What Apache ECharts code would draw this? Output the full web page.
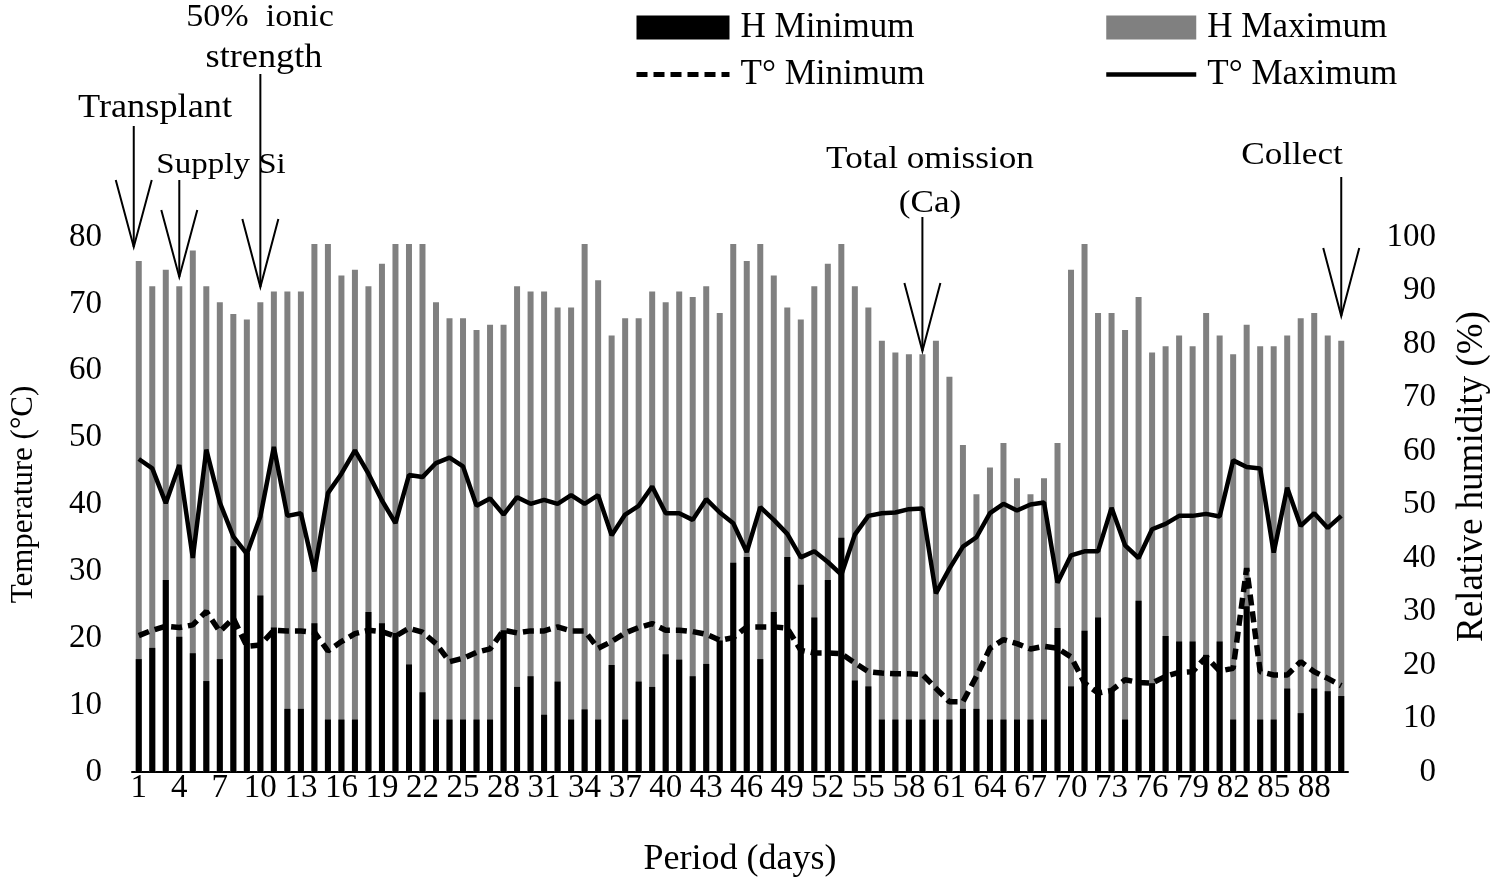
<!DOCTYPE html>
<html>
<head>
<meta charset="utf-8">
<script src="https://cdn.jsdelivr.net/npm/echarts@6/dist/echarts.min.js"></script>
<style>
html,body{margin:0;padding:0;background:#fff;}
#chart{width:1499px;height:883px;}
</style>
</head>
<body>
<div id="chart"></div>
<script>
const days = ['1','2','3','4','5','6','7','8','9','10','11','12','13','14','15','16','17','18','19','20',
'21','22','23','24','25','26','27','28','29','30','31','32','33','34','35','36','37','38','39','40',
'41','42','43','44','45','46','47','48','49','50','51','52','53','54','55','56','57','58','59','60',
'61','62','63','64','65','66','67','68','69','70','71','72','73','74','75','76','77','78','79','80',
'81','82','83','84','85','86','87','88','89','90'];

// Relative humidity maximum (%)
const hMax = [95.5,90.8,93.9,90.8,97.5,90.8,87.8,85.6,84.6,87.8,
89.8,89.8,89.8,98.7,98.7,92.8,93.9,90.8,95.0,98.7,
98.7,98.7,87.8,84.8,84.8,82.6,83.6,83.6,90.8,89.8,
89.8,86.8,86.8,98.7,91.9,81.6,84.8,84.8,89.8,87.8,
89.8,88.8,90.8,85.8,98.7,95.5,98.7,92.8,86.8,84.6,
90.8,95.0,98.7,90.8,86.8,80.6,78.4,78.1,78.1,80.6,
73.9,61.1,51.9,56.9,61.5,54.9,51.9,54.9,61.5,93.9,
98.7,85.8,85.8,82.6,88.8,78.4,79.6,81.6,79.6,85.8,
81.6,78.1,83.6,79.6,79.6,81.6,84.8,85.8,81.6,80.6];

// Relative humidity minimum (%)
const hMin = [21.1,23.2,35.9,25.3,22.2,17.0,21.1,42.2,41.0,33.0,
27.0,11.8,11.8,27.8,9.8,9.8,9.8,29.9,27.8,26.0,
20.1,14.9,9.8,9.8,9.8,9.8,9.8,26.5,15.9,17.9,
10.7,16.9,9.8,11.7,9.8,20.0,9.8,16.9,15.9,22.0,
21.0,17.9,20.2,24.6,39.1,40.2,21.1,29.9,40.2,35.0,
28.9,35.9,43.8,17.1,16.0,9.8,9.8,9.8,9.8,9.8,
9.8,11.8,11.8,9.8,9.8,9.8,9.8,9.8,26.9,16.0,
26.4,28.9,15.2,9.8,32.0,16.6,25.4,24.4,24.4,21.9,
24.4,9.8,31.0,9.8,9.8,15.6,11.0,15.6,15.1,14.2];

// Temperature maximum (°C)
const tMax = [46.8,45.4,40.2,45.9,32.0,48.2,40.3,35.2,32.6,38.2,
48.6,38.3,38.7,30.0,41.7,44.6,48.1,44.6,40.6,37.2,
44.4,44.1,46.2,47.0,45.7,39.8,40.9,38.5,41.1,40.1,
40.7,40.1,41.4,40.1,41.4,35.4,38.5,39.8,42.7,38.7,
38.7,37.7,40.8,38.8,37.2,32.9,39.6,37.7,35.6,32.1,
33.0,31.4,29.5,35.5,38.3,38.7,38.8,39.3,39.4,26.7,
30.4,33.7,35.1,38.7,40.1,39.1,40.0,40.3,28.3,32.4,
33.0,33.0,39.5,33.9,32.0,36.3,37.1,38.3,38.3,38.6,
38.2,46.6,45.6,45.4,32.8,42.5,36.8,38.7,36.5,38.3];

// Temperature minimum (°C)
const tMin = [20.4,21.2,21.8,21.6,22.0,24.0,21.0,23.0,18.8,19.0,
21.2,21.1,21.1,20.9,18.1,19.5,20.7,21.2,21.0,20.3,
21.5,20.9,19.2,16.5,17.0,17.9,18.4,21.2,20.8,21.1,
21.1,21.7,21.1,21.1,18.5,19.5,20.8,21.6,22.2,21.2,
21.2,21.0,20.6,19.7,20.1,21.7,21.7,21.7,21.5,18.2,
17.8,17.8,17.7,16.3,15.0,14.8,14.7,14.7,14.6,12.5,
10.5,10.5,14.3,18.5,19.8,19.2,18.4,18.8,18.5,17.2,
13.3,11.8,12.2,13.8,13.4,13.3,14.3,14.9,15.0,17.2,
15.1,15.5,30.5,15.0,14.5,14.5,16.5,15.0,14.0,12.9];

const FONT = '"Liberation Serif", "Times New Roman", serif';
const T_MIN_DASH = [11, 6];

const chart = echarts.init(document.getElementById('chart'), null, {renderer: 'canvas'});

const legendText = {fontFamily: FONT, fontSize: 35, color: '#000', lineHeight: 32, padding: [0, 0, 0, 6]};
const option = {
  animation: false,
  backgroundColor: '#fff',
  grid: {left: 130, right: 144, top: 237, bottom: 111, containLabel: false},
  legend: [
    {
      data: [
        {name: 'H Minimum', icon: 'rect'},
        {name: 'T° Minimum', itemStyle: {opacity: 0}, lineStyle: {width: 5, type: T_MIN_DASH}}
      ],
      orient: 'vertical', left: 634, top: 10, padding: 0,
      itemWidth: 93, itemHeight: 24, itemGap: 12,
      textStyle: legendText
    },
    {
      data: [
        {name: 'H Maximum', icon: 'rect'},
        {name: 'T° Maximum', itemStyle: {opacity: 0}, lineStyle: {width: 4.5}}
      ],
      orient: 'vertical', left: 1104, top: 10, padding: 0,
      itemWidth: 90, itemHeight: 24, itemGap: 12,
      textStyle: legendText
    }
  ],
  xAxis: {
    type: 'category', data: days, boundaryGap: true,
    axisLine: {lineStyle: {color: '#000', width: 2}},
    axisTick: {show: false},
    axisLabel: {interval: 2, color: '#000', fontFamily: FONT, fontSize: 33, margin: 0},
    name: 'Period (days)', nameLocation: 'middle', nameGap: 70,
    nameTextStyle: {fontFamily: FONT, fontSize: 36, color: '#000'}
  },
  yAxis: [
    {
      type: 'value', min: 0, max: 80, interval: 10, position: 'left',
      axisLine: {show: false}, axisTick: {show: false}, splitLine: {show: false},
      axisLabel: {color: '#000', fontFamily: FONT, fontSize: 33, margin: 30},
      name: 'Temperature (°C)', nameLocation: 'middle', nameGap: 93, nameRotate: 90,
      nameTextStyle: {fontFamily: FONT, fontSize: 31, color: '#000', padding: [0, 0, 0, 20]}
    },
    {
      type: 'value', min: 0, max: 100, interval: 10, position: 'right',
      axisLine: {show: false}, axisTick: {show: false}, splitLine: {show: false},
      axisLabel: {color: '#000', fontFamily: FONT, fontSize: 33, margin: 88, align: 'right'},
      name: 'Relative humidity (%)', nameLocation: 'middle', nameGap: 106, nameRotate: 90,
      nameTextStyle: {fontFamily: FONT, fontSize: 37, color: '#000', padding: [0, 0, 0, 56]}
    }
  ],
  series: [
    {name: 'H Maximum', type: 'bar', yAxisIndex: 1, data: hMax, barWidth: 6, barGap: '-100%',
     itemStyle: {color: '#808080'}},
    {name: 'H Minimum', type: 'bar', yAxisIndex: 1, data: hMin, barWidth: 6, barGap: '-100%',
     itemStyle: {color: '#000000'}},
    {name: 'T° Minimum', type: 'line', yAxisIndex: 0, data: tMin, symbol: 'none',
     lineStyle: {color: '#000', width: 5.5, type: T_MIN_DASH}, itemStyle: {color: '#000'}},
    {name: 'T° Maximum', type: 'line', yAxisIndex: 0, data: tMax, symbol: 'none',
     lineStyle: {color: '#000', width: 4.5}, itemStyle: {color: '#000'}}
  ]
};
chart.setOption(option);

// annotations (arrows + texts) anchored at category positions
function px(dayIdx) { return chart.convertToPixel({xAxisIndex: 0}, dayIdx); }
const catW = px(1) - px(0);
function arrow(x, yTop, yTip, headLen, half) {
  return [
    {type: 'line', shape: {x1: x, y1: yTop, x2: x, y2: yTip}, style: {stroke: '#000', lineWidth: 2}, z: 100},
    {type: 'polyline', shape: {points: [[x - half, yTip - headLen], [x, yTip], [x + half, yTip - headLen]]},
     style: {stroke: '#000', lineWidth: 2, fill: null}, z: 100}
  ];
}
function label(text, x, y, size) {
  return {type: 'text', x: x, y: y, z: 100, scaleX: 1.1,
    style: {text: text, fontFamily: FONT, fontSize: size, fill: '#000', align: 'center', verticalAlign: 'middle'}};
}
const xTrans = px(0) - 0.37 * catW;
const xSupply = px(3);
const xIonic = px(9);
const xOmit = px(58);
const xCollect = px(89);
const graphics = []
  .concat(arrow(xTrans, 126, 247, 67, 18))
  .concat(arrow(xSupply, 180, 277, 67, 18))
  .concat(arrow(xIonic, 74, 287, 68, 18))
  .concat(arrow(xOmit, 217, 351, 68, 18))
  .concat(arrow(xCollect, 177, 316, 68, 18))
  .concat([
    label('Transplant', 155, 108, 33),
    label('Supply Si', 221, 165, 30),
    label('50%  ionic', 260, 18, 31),
    label('strength', 264, 58, 33),
    label('Total omission', 930, 160, 32),
    label('(Ca)', 930, 204, 32),
    label('Collect', 1292, 156, 32)
  ]);
chart.setOption({graphic: graphics});
</script>
</body>
</html>
